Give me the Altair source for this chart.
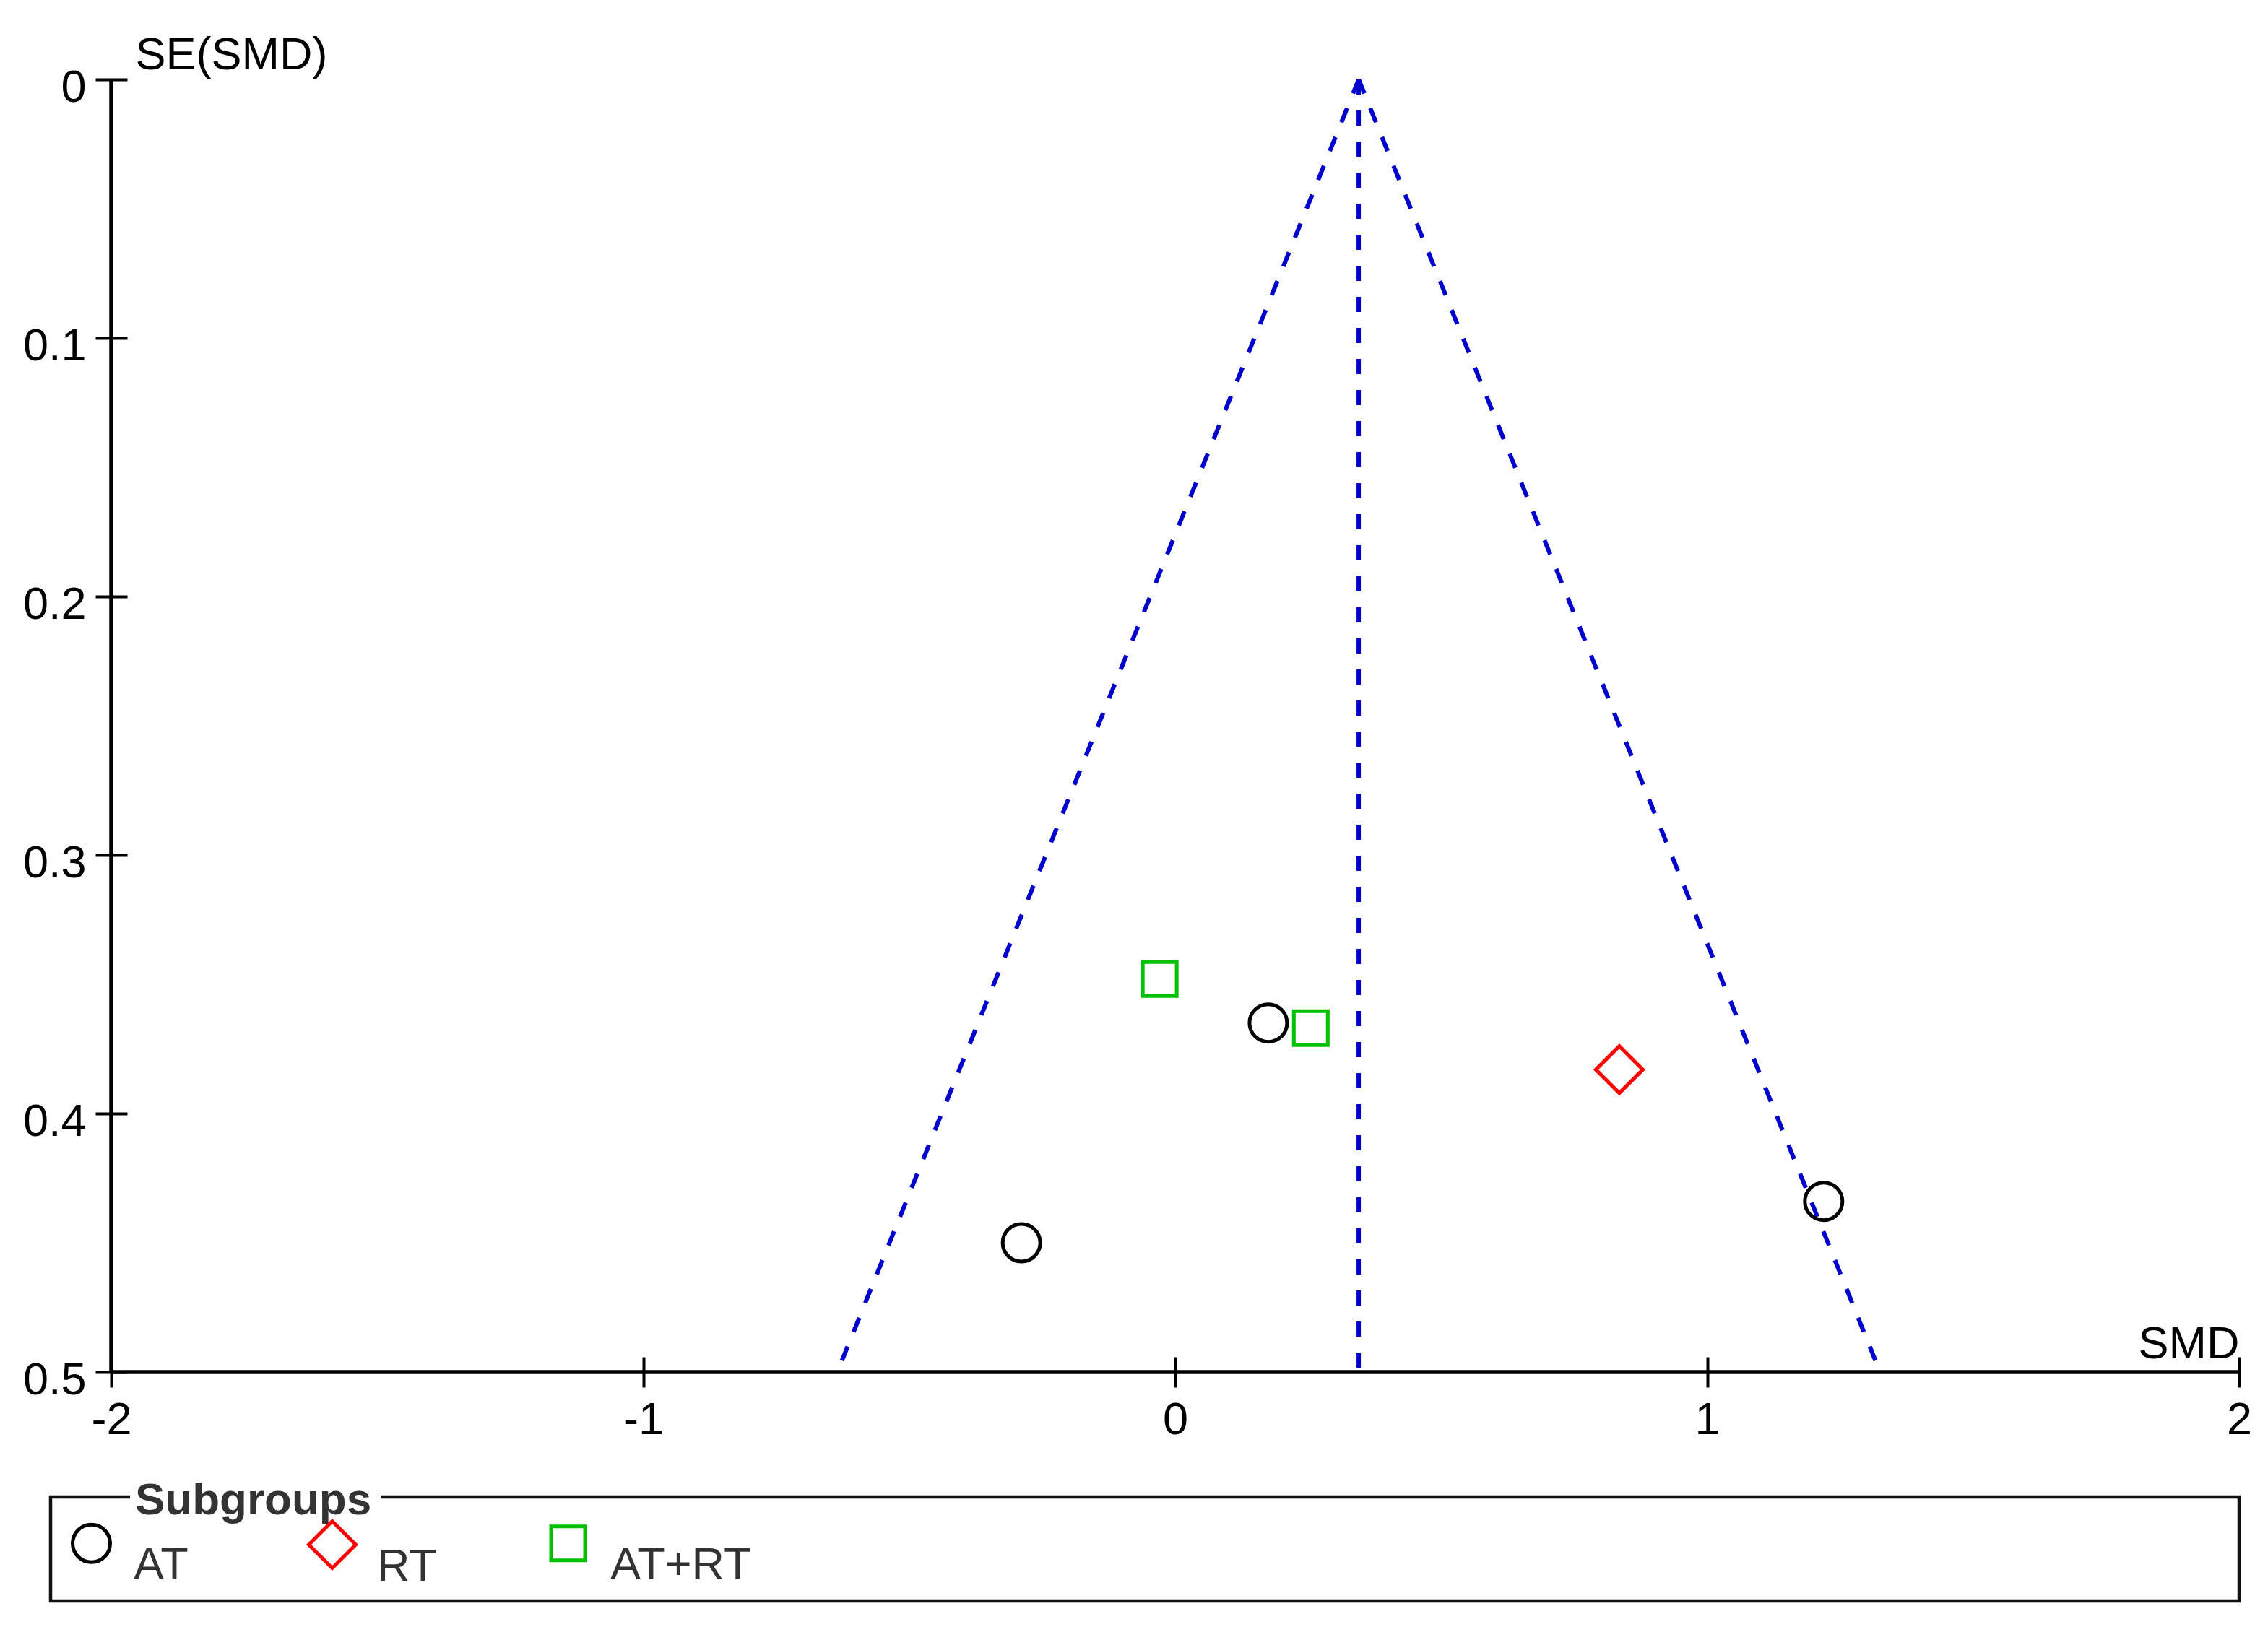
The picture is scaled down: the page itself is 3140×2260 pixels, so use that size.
import altair as alt
import pandas as pd

# ---- data ----
smd = [0.175, -0.289, 1.219, 0.835, -0.029, 0.255]
se = [0.365, 0.450, 0.434, 0.383, 0.348, 0.367]
subgroup = ["AT", "AT", "AT", "RT", "AT+RT", "AT+RT"]

groups = ["AT", "RT", "AT+RT"]
shapes = ["circle", "diamond", "square"]
colors = ["#000000", "#ff0000", "#00c000"]
sizes = [2704, 4225, 2209]

pooled_smd = 0.345
funnel_side = ["left", "left", "right", "right"]
funnel_x = [0.345, -0.635, 0.345, 1.325]
funnel_y = [0.0, 0.5, 0.0, 0.5]
funnel_order = [0, 1, 0, 1]

x_ticks = [-2, -1, 0, 1, 2]
y_ticks = [0, 0.1, 0.2, 0.3, 0.4, 0.5]

W, H = 2946, 1790
FONT = "Liberation Sans"
BLUE = "#0000cc"

points = pd.DataFrame({"SMD": smd, "SE": se, "Subgroups": subgroup})
funnel = pd.DataFrame({"SMD": funnel_x, "SE": funnel_y,
                       "side": funnel_side, "i": funnel_order})
one = pd.DataFrame({"k": [0]})

xscale = alt.Scale(domain=[-2, 2], nice=False, zero=False)
yscale = alt.Scale(domain=[0, 0.5], reverse=True, nice=False, zero=False)

x_axis = alt.Axis(
    values=x_ticks, format="~f", domain=False, grid=False, labelFlush=False,
    tickSize=42, offset=-21, tickWidth=4, tickColor="black",
    labelFont=FONT, labelFontSize=63, labelColor="black", labelPadding=14,
    labelExpr="replace(datum.label, '\u2212', '-')",
    title="SMD", titleFont=FONT, titleFontSize=63, titleFontWeight="normal",
    titleColor="black", titleX=W, titleY=1, titleAlign="right",
    titleBaseline="alphabetic",
)
y_axis = alt.Axis(
    values=y_ticks, format="~f", domain=False, grid=False, labelFlush=False,
    tickSize=44, offset=-22, tickWidth=4, tickColor="black",
    labelFont=FONT, labelFontSize=63, labelColor="black", labelPadding=13,
    labelOffset=11,
    title="SE(SMD)", titleFont=FONT, titleFontSize=63, titleFontWeight="normal",
    titleColor="black", titleAngle=0, titleX=11, titleY=-15, titleAlign="left",
    titleBaseline="alphabetic",
)

legend = alt.Legend(
    title=None, orient="none", legendX=-59, legendY=1994,
    direction="horizontal", padding=0, gridAlign="all", columnPadding=36,
    labelFont=FONT, labelFontSize=63, labelColor="#333333", labelBaseline="top",
    labelOffset=27, labelLimit=1000, symbolStrokeWidth=5,
)

# legend frame (decoration), mask behind the group title, and the title
frame = alt.Chart(one).mark_rect(filled=False, stroke="#111111", strokeWidth=4.5).encode(
    x=alt.value(-84), x2=alt.value(W), y=alt.value(1963), y2=alt.value(2107)
)
mask = alt.Chart(one).mark_rect(color="white").encode(
    x=alt.value(26), x2=alt.value(373), y=alt.value(1955), y2=alt.value(1972)
)
legend_title = alt.Chart(one).mark_text(
    text="Subgroups", font=FONT, fontSize=62, fontWeight="bold", color="#333333",
    align="left", baseline="alphabetic",
).encode(x=alt.value(33), y=alt.value(1987))

x_line = alt.Chart(one).mark_rule(color="black", strokeWidth=5.5).encode(
    x=alt.XDatum(-2, scale=xscale, axis=x_axis), x2=alt.datum(2),
    y=alt.YDatum(0.5, scale=yscale, axis=y_axis),
)
y_line = alt.Chart(one).mark_rule(color="black", strokeWidth=5.5).encode(
    x=alt.XDatum(-2, scale=xscale), y=alt.YDatum(0, scale=yscale), y2=alt.datum(0.5),
)

funnel_lines = alt.Chart(funnel).mark_line(
    color=BLUE, strokeWidth=6, strokeDash=[21, 22]
).encode(
    x=alt.X("SMD:Q", scale=xscale),
    y=alt.Y("SE:Q", scale=yscale),
    detail="side:N",
    order="i:Q",
)
center_line = alt.Chart(one).mark_rule(
    color=BLUE, strokeWidth=6, strokeDash=[21, 22]
).encode(
    x=alt.XDatum(pooled_smd, scale=xscale),
    y=alt.YDatum(0, scale=yscale), y2=alt.datum(0.5),
)

pts = alt.Chart(points).mark_point(filled=False, opacity=1).encode(
    x=alt.X("SMD:Q", scale=xscale),
    y=alt.Y("SE:Q", scale=yscale),
    shape=alt.Shape("Subgroups:N", scale=alt.Scale(domain=groups, range=shapes), legend=legend),
    color=alt.Color("Subgroups:N", scale=alt.Scale(domain=groups, range=colors), legend=legend),
    size=alt.Size("Subgroups:N", scale=alt.Scale(type="ordinal", domain=groups, range=sizes), legend=legend),
    strokeWidth=alt.value(5),
)

chart = alt.layer(
    frame, mask, legend_title, funnel_lines, center_line, x_line, y_line, pts
).properties(
    width=W, height=H,
    autosize=alt.AutoSizeParams(type="none"),
    padding={"left": 146, "top": 102, "right": 30, "bottom": 340},
    background="white",
).configure_view(strokeWidth=0)

chart.save("out.html", embed_options={"renderer": "svg", "actions": False})
